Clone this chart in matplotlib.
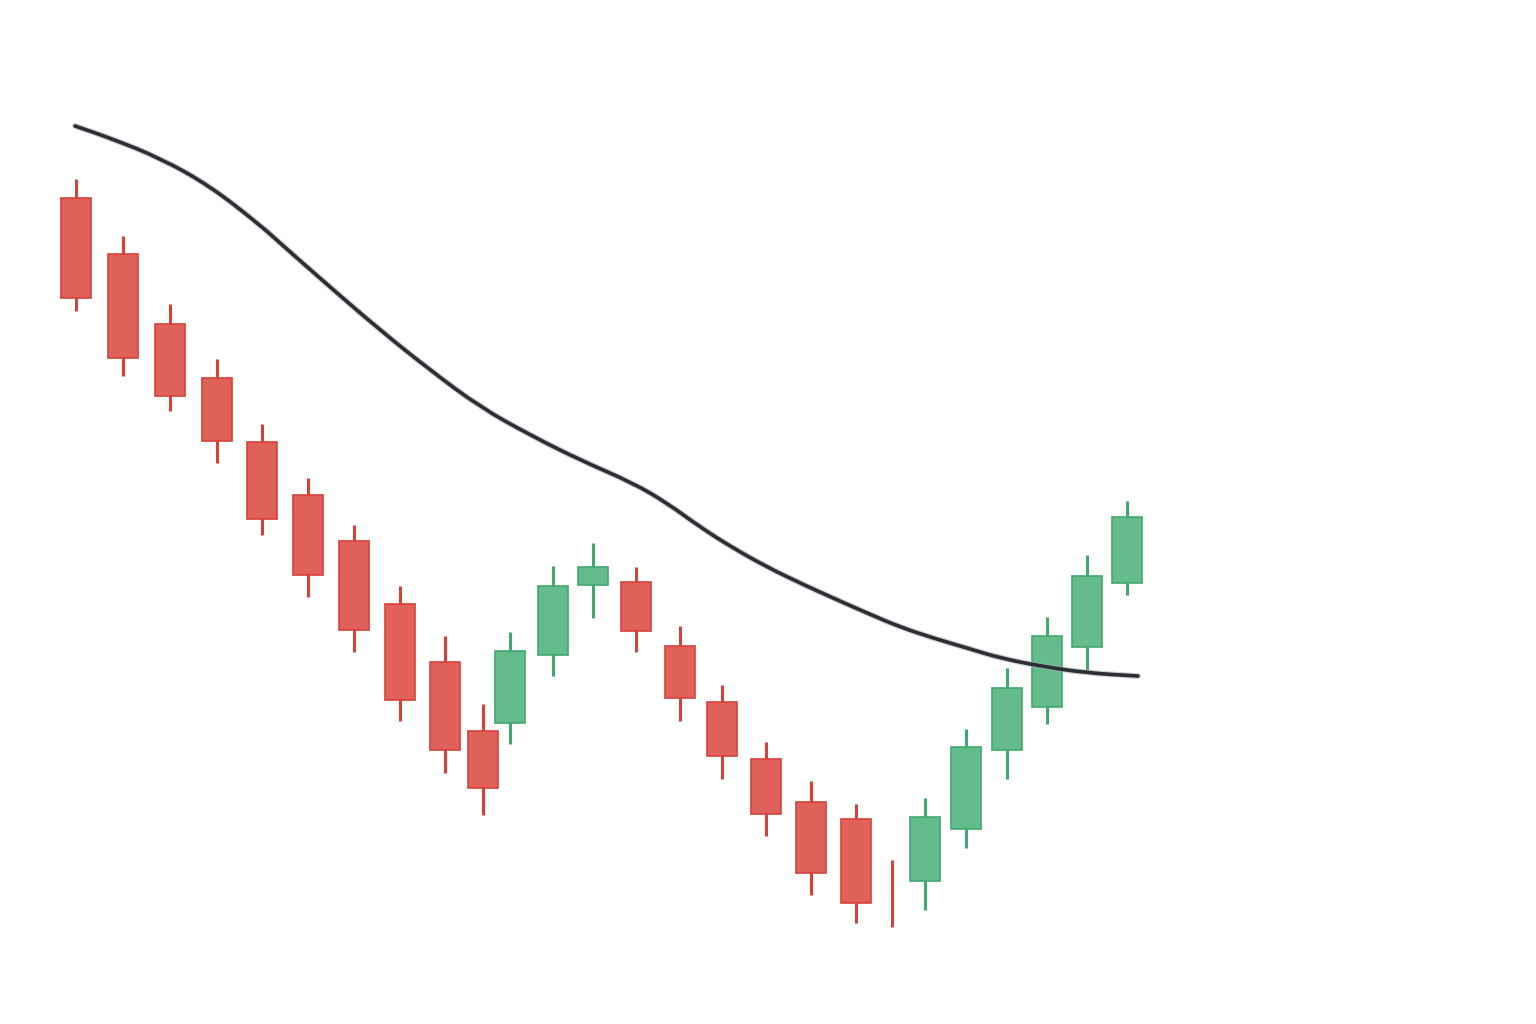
import matplotlib.pyplot as plt
import matplotlib.patheffects as pe
from matplotlib.path import Path
from matplotlib.patches import PathPatch

# свечи: время, open, high, low, close
t = [7.6, 12.3, 17.0, 21.7, 26.2, 30.8, 35.4, 40.0, 44.5, 48.3,
     51.0, 55.3, 59.3, 63.6, 68.0, 72.2, 76.6, 81.1, 85.6, 89.2,
     92.5, 96.6, 100.7, 104.7, 108.7, 112.7]
open_ = [80.2, 74.6, 67.6, 62.2, 55.8, 50.5, 45.9, 39.6, 33.8, 26.9,
         27.7, 34.5, 41.5, 41.8, 35.4, 29.8, 24.1, 19.8, 18.1, 9.0,
         11.9, 17.1, 25.0, 29.3, 35.3, 41.7]
high = [82.1, 76.4, 69.6, 64.1, 57.6, 52.2, 47.5, 41.4, 36.4, 29.6,
        36.8, 43.4, 45.7, 43.3, 37.4, 31.5, 25.8, 21.9, 19.6, 14.0,
        20.2, 27.1, 33.2, 38.3, 44.5, 49.9]
low = [68.9, 62.4, 58.9, 53.7, 46.5, 40.3, 34.8, 27.9, 22.7, 18.5,
       25.6, 32.4, 38.2, 34.8, 27.9, 22.1, 16.4, 10.5, 7.7, 7.3,
       9.0, 15.2, 22.1, 27.6, 33.0, 40.5]
close = [70.2, 64.2, 60.4, 55.9, 48.1, 42.5, 37.0, 30.0, 25.0, 21.2,
         34.9, 41.4, 43.3, 36.9, 30.2, 24.4, 18.6, 12.7, 9.7, 9.0,
         18.3, 25.3, 31.2, 36.4, 42.4, 48.3]
down = [True] * 10 + [False] * 3 + [True] * 7 + [False] * 6

# скользящая средняя
ma_t = [7.5, 11.0, 16.0, 21.0, 26.0, 28.0, 33.0, 38.0, 43.0, 48.0, 53.0, 58.0,
        63.3, 66.7, 70.0, 73.3, 76.7, 80.0, 83.3, 86.7, 90.0, 93.3, 96.7,
        100.0, 104.0, 108.7, 113.8]
ma = [87.4, 86.2, 84.2, 81.4, 77.5, 75.7, 71.3, 67.0, 63.0, 59.3, 56.5, 54.0,
      51.7, 49.7, 47.3, 45.2, 43.3, 41.7, 40.2, 38.7, 37.3, 36.2, 35.2,
      34.2, 33.4, 32.7, 32.4]

red_fill, red_edge = '#E0615A', '#D8413A'
green_fill, green_edge = '#64BC8D', '#42A870'

fig = plt.figure(figsize=(15.36, 10.24), dpi=100)
ax = fig.add_axes([0, 0, 1, 1])

for i in range(len(t)):
    fill = red_fill if down[i] else green_fill
    edge = red_edge if down[i] else green_edge
    ax.vlines(t[i], low[i], high[i], color=edge, linewidth=2.2, zorder=2)
    h = abs(close[i] - open_[i])
    if h > 0:
        ax.bar(t[i], h, bottom=min(open_[i], close[i]), width=3.0,
               color=fill, edgecolor=edge, linewidth=1.2, zorder=3)

# сглаженная линия: квадратичные кривые Безье через середины отрезков
pts = list(zip(ma_t, ma))
verts = [pts[0], ((pts[0][0] + pts[1][0]) / 2, (pts[0][1] + pts[1][1]) / 2)]
codes = [Path.MOVETO, Path.LINETO]
for i in range(1, len(pts) - 1):
    mid = ((pts[i][0] + pts[i + 1][0]) / 2, (pts[i][1] + pts[i + 1][1]) / 2)
    verts += [pts[i], mid]
    codes += [Path.CURVE3, Path.CURVE3]
verts.append(pts[-1])
codes.append(Path.LINETO)

curve = PathPatch(Path(verts, codes), fill=False, edgecolor='#2B2E33',
                  linewidth=2.6, capstyle='round', joinstyle='round', zorder=4,
                  path_effects=[pe.withStroke(linewidth=4.2, foreground='#A9ACAF', alpha=0.6)])
ax.add_patch(curve)

ax.set_xlim(0, 153.6)
ax.set_ylim(-2.4, 100)
ax.axis('off')

plt.savefig('out.png', dpi=100, facecolor='white')
